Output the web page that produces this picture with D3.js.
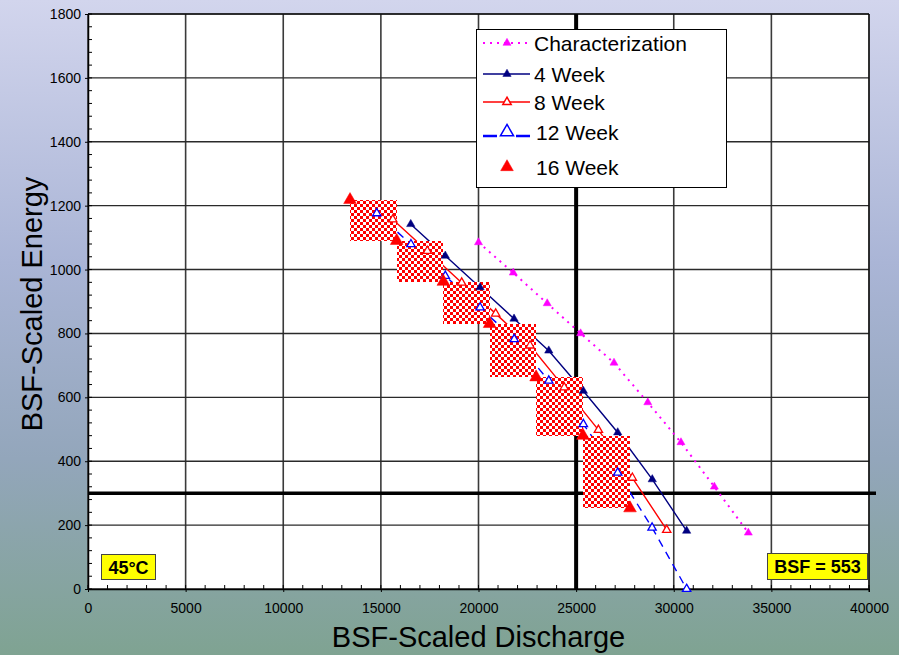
<!DOCTYPE html>
<html><head><meta charset="utf-8">
<script src="https://cdn.jsdelivr.net/npm/d3@7/dist/d3.min.js"></script>
<style>html,body{margin:0;padding:0;overflow:hidden}svg{display:block}text{font-family:"Liberation Sans",Arial,sans-serif}</style>
</head><body>
<svg id="c" width="899" height="655"></svg>
<script>
// ---- data ----
const charX = [20000, 21780, 23520, 25230, 26940, 28670, 30370, 32080, 33820];
const charY = [1085, 990, 894, 800, 708, 584, 459, 320, 176];
const w4X = [16530, 18300, 20080, 21820, 23600, 25370, 27130, 28900, 30660];
const w4Y = [1142, 1043, 944, 846, 746, 620, 490, 343, 182];
const w8X = [15610, 17380, 19140, 20880, 22640, 24390, 26140, 27880, 29640];
const w8Y = [1157, 1058, 959, 862, 762, 631, 498, 348, 185];
const w12X = [14790, 16540, 18300, 20080, 21830, 23600, 25370, 27130, 28890, 30660];
const w12Y = [1176, 1079, 980, 881, 782, 652, 516, 364, 192, 0];
const w16X = [13420, 15810, 18200, 20570, 22950, 25350, 27760];
const w16Y = [1218, 1090, 962, 830, 663, 480, 253];
const seriesNames = ["Characterization", "4 Week", "8 Week", "12 Week", "16 Week"];
const xTicks = [0, 5000, 10000, 15000, 20000, 25000, 30000, 35000, 40000];
const yTicks = [0, 200, 400, 600, 800, 1000, 1200, 1400, 1600, 1800];
const refX = 25000, refY = 300;
const tempLabel = "45°C", bsfLabel = "BSF = 553";
const xTitle = "BSF-Scaled Discharge", yTitle = "BSF-Scaled Energy";

const svg = d3.select("#c");
const W = 899, H = 655;
const L = 88, R = 869, T = 14, B = 589;
const x = d3.scaleLinear().domain([0, 40000]).range([L, R]);
const y = d3.scaleLinear().domain([0, 1800]).range([B, T]);

// background gradient
const defs = svg.append("defs");
const g = defs.append("linearGradient").attr("id", "bg").attr("x1", 0).attr("y1", 0).attr("x2", 0).attr("y2", 1);
[[0, "#d2d5ed"], [0.4, "#aab5d6"], [0.7, "#93a6bb"], [1, "#7fa392"]].forEach(s => g.append("stop").attr("offset", s[0]).attr("stop-color", s[1]));
const pat = defs.append("pattern").attr("id", "chk").attr("patternUnits", "userSpaceOnUse").attr("width", 6).attr("height", 6);
pat.append("rect").attr("width", 6).attr("height", 6).attr("fill", "#fff");
pat.append("rect").attr("width", 3).attr("height", 3).attr("fill", "#ff0000");
pat.append("rect").attr("x", 3).attr("y", 3).attr("width", 3).attr("height", 3).attr("fill", "#ff0000");
svg.append("rect").attr("width", W).attr("height", H).attr("fill", "url(#bg)");

// plot area
svg.append("rect").attr("x", L).attr("y", T).attr("width", R - L).attr("height", B - T).attr("fill", "#fff");

// gridlines
svg.append("g").selectAll("line").data(xTicks).join("line")
  .attr("x1", d => x(d)).attr("x2", d => x(d)).attr("y1", T).attr("y2", B)
  .attr("stroke", "#3a3a3a").attr("stroke-width", 1.6);
svg.append("g").selectAll("line").data(yTicks).join("line")
  .attr("x1", L).attr("x2", R).attr("y1", d => y(d)).attr("y2", d => y(d))
  .attr("stroke", "#2a2a2a").attr("stroke-width", 1.4);

// axes
const xAxis = d3.axisBottom(x).tickValues(xTicks).tickSizeInner(3).tickSizeOuter(0).tickPadding(11).tickFormat(d3.format("d"));
const xa = svg.append("g").attr("transform", `translate(0,${B})`).call(xAxis);
const yAxis = d3.axisLeft(y).tickValues(yTicks).tickSizeInner(3).tickSizeOuter(0).tickPadding(4).tickFormat(d3.format("d"));
const ya = svg.append("g").attr("transform", `translate(${L},0)`).call(yAxis);
[xa, ya].forEach(a => {
  a.selectAll("text").attr("font-size", 14).attr("fill", "#000").style("font-family", "Liberation Sans, Arial, sans-serif");
  a.selectAll("line").attr("stroke", "#000");
  a.select(".domain").attr("stroke", "#000").attr("stroke-width", 1.5);
});
// minor ticks
svg.append("g").selectAll("line").data(d3.range(0, 40001, 1000)).join("line")
  .attr("x1", d => x(d)).attr("x2", d => x(d)).attr("y1", B).attr("y2", B - 4).attr("stroke", "#000");
svg.append("g").selectAll("line").data(d3.range(0, 1801, 40)).join("line")
  .attr("x1", L).attr("x2", L + 4).attr("y1", d => y(d)).attr("y2", d => y(d)).attr("stroke", "#000");
// border
svg.append("line").attr("x1", L).attr("x2", R).attr("y1", T).attr("y2", T).attr("stroke", "#000");
svg.append("line").attr("x1", R).attr("x2", R).attr("y1", T).attr("y2", B + 3).attr("stroke", "#000");

// reference thick lines
svg.append("line").attr("x1", x(refX)).attr("x2", x(refX)).attr("y1", T).attr("y2", B).attr("stroke", "#000").attr("stroke-width", 4);
svg.append("line").attr("x1", L).attr("x2", R + 7).attr("y1", y(refY)).attr("y2", y(refY)).attr("stroke", "#000").attr("stroke-width", 3.5);

// series lines
const line = d3.line().x(d => x(d[0])).y(d => y(d[1]));
const zip = (a, b) => a.map((v, i) => [v, b[i]]);
const S = [
  { xs: charX, ys: charY, color: "#ff00ff", dash: "2,5", w: 2, fill: true, size: 28, line: true },
  { xs: w4X, ys: w4Y, color: "#000080", dash: null, w: 1.4, fill: true, size: 30, line: true },
  { xs: w8X, ys: w8Y, color: "#ff0000", dash: null, w: 1.4, fill: false, size: 30, line: true },
  { xs: w12X, ys: w12Y, color: "#0000ff", dash: "8,6", w: 1.4, fill: false, size: 30, line: true },
  { xs: w16X, ys: w16Y, color: "#ff0000", dash: null, w: 0, fill: true, size: 70, line: false }
];
S.forEach(s => {
  if (!s.line) return;
  svg.append("path").attr("d", line(zip(s.xs, s.ys))).attr("fill", "none")
    .attr("stroke", s.color).attr("stroke-width", s.w).attr("stroke-dasharray", s.dash);
});

// checkered boxes between consecutive 16 week points
const boxes = d3.range(w16X.length - 1).map(i => [w16X[i], w16Y[i], w16X[i + 1], w16Y[i + 1]]);
svg.append("g").attr("shape-rendering", "crispEdges").selectAll("rect").data(boxes).join("rect")
  .attr("x", d => Math.round(x(d[0]))).attr("y", d => Math.round(y(d[1])))
  .attr("width", d => Math.round(x(d[2])) - Math.round(x(d[0]))).attr("height", d => Math.round(y(d[3])) - Math.round(y(d[1])))
  .attr("fill", "url(#chk)");

// markers
const sym = (size) => d3.symbol().type(d3.symbolTriangle).size(size)();
S.forEach(s => {
  svg.append("g").selectAll("path").data(zip(s.xs, s.ys)).join("path")
    .attr("d", sym(s.size))
    .attr("transform", d => `translate(${x(d[0])},${y(d[1])})`)
    .attr("fill", s.fill ? s.color : "#fff").attr("stroke", s.color).attr("stroke-width", s.fill ? 0.5 : 1.3);
});

// legend
const lg = svg.append("g");
lg.append("rect").attr("x", 476.5).attr("y", 29.5).attr("width", 250).attr("height", 158).attr("fill", "#fff").attr("stroke", "#000");
const ly = [43, 74, 102, 132, 167];
S.forEach((s, i) => {
  if (s.line) {
    if (i === 3) {
      [[483, 497], [516, 530]].forEach(seg => lg.append("line").attr("x1", seg[0]).attr("x2", seg[1]).attr("y1", ly[i] + 4).attr("y2", ly[i] + 4)
        .attr("stroke", s.color).attr("stroke-width", 2.5));
    } else {
      lg.append("line").attr("x1", 483).attr("x2", 530).attr("y1", ly[i]).attr("y2", ly[i])
        .attr("stroke", s.color).attr("stroke-width", s.w).attr("stroke-dasharray", s.dash);
    }
  }
  const sz = i === 3 ? 75 : s.size;
  lg.append("path").attr("d", sym(sz)).attr("transform", `translate(507,${ly[i]})`)
    .attr("fill", s.fill ? s.color : "#fff").attr("stroke", s.color).attr("stroke-width", s.fill ? 0.5 : 1.5);
  lg.append("text").attr("x", i >= 3 ? 536 : 534).attr("y", ly[i] + 7.5).attr("font-size", 21).attr("fill", "#000").text(seriesNames[i]);
});

// label boxes
svg.append("rect").attr("x", 101.5).attr("y", 554.5).attr("width", 54).attr("height", 25).attr("fill", "#ffff00").attr("stroke", "#444");
svg.append("text").attr("x", 128.5).attr("y", 573.5).attr("text-anchor", "middle").attr("font-size", 18).attr("font-weight", "bold").text(tempLabel);
svg.append("rect").attr("x", 767.5).attr("y", 553.5).attr("width", 100).attr("height", 26).attr("fill", "#ffff00").attr("stroke", "#444");
svg.append("text").attr("x", 817.5).attr("y", 572.5).attr("text-anchor", "middle").attr("font-size", 18).attr("font-weight", "bold").text(bsfLabel);

// titles
svg.append("text").attr("x", (L + R) / 2).attr("y", 647).attr("text-anchor", "middle").attr("font-size", 29).attr("fill", "#000").text(xTitle);
svg.append("text").attr("transform", "translate(42,304) rotate(-90)").attr("text-anchor", "middle").attr("font-size", 29).attr("fill", "#000").text(yTitle);
</script>
</body></html>
